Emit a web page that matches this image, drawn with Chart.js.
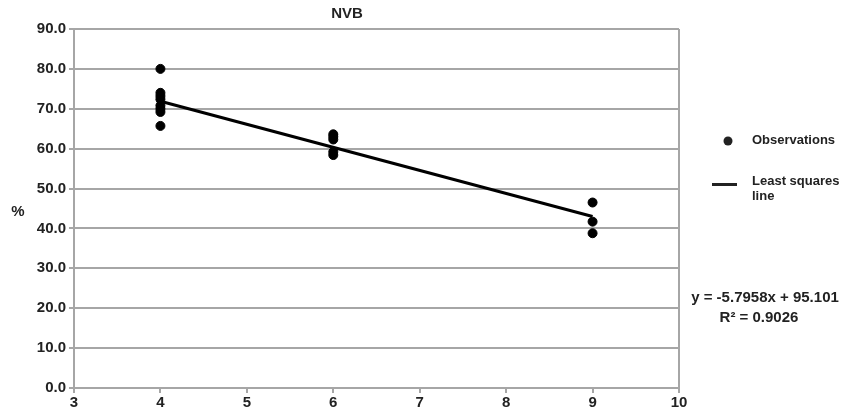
<!DOCTYPE html>
<html>
<head>
<meta charset="utf-8">
<script src="https://cdn.jsdelivr.net/npm/chart.js@4/dist/chart.umd.min.js"></script>
<style>
  html, body { margin: 0; padding: 0; background: #fff; }
  #wrap { width: 843px; height: 415px; position: relative; }
</style>
</head>
<body>
<div id="wrap"><canvas id="nvbChart"></canvas></div>
<script>
"use strict";

// observations: group (x) and % (y)
var obsX = [4, 4, 4, 4, 4, 4, 4, 4, 6, 6, 6, 6, 6, 9, 9, 9];
var obsY = [80.0, 74.0, 73.2, 72.4, 70.8, 70.0, 69.2, 65.7, 63.6, 63.0, 62.3, 59.2, 58.4, 46.5, 41.7, 38.8];

// least squares line end points
var fitX = [4, 9];
var fitY = [71.9, 43.0];

var yTicks = [0, 10, 20, 30, 40, 50, 60, 70, 80, 90];
var xTicks = [3, 4, 5, 6, 7, 8, 9, 10];

var chartTitle = 'NVB';
var yTitle = '%';
var legendLabels = ['Observations', 'Least squares', 'line'];
var equationText = ['y = -5.7958x + 95.101', 'R\u00B2 = 0.9026'];

var gridGrey = '#a6a6a6';
var textCol = '#222222';
var fontFam = '"Liberation Sans", Arial, sans-serif';

function toPoints(xs, ys) {
    var pts = [];
    for (var i = 0; i < xs.length; i++) {
        pts.push({x: xs[i], y: ys[i]});
    }
    return pts;
}

/*
 * Title, axis label, legend and equation
 */
var extrasPlugin = {
    id: 'extras',
    afterDraw: function (chart) {
        var ctx = chart.ctx;
        ctx.save();
        ctx.fillStyle = textCol;
        ctx.textBaseline = 'middle';

        ctx.font = 'bold 15px ' + fontFam;
        ctx.textAlign = 'center';
        ctx.fillText(chartTitle, 347, 14);
        ctx.fillText(yTitle, 18, 212);

        // legend
        ctx.beginPath();
        ctx.arc(728, 141, 4.5, 0, Math.PI * 2);
        ctx.fill();
        ctx.fillRect(712, 183, 25, 3);
        ctx.font = 'bold 13px ' + fontFam;
        ctx.textAlign = 'left';
        ctx.fillText(legendLabels[0], 752, 140);
        ctx.fillText(legendLabels[1], 752, 181);
        ctx.fillText(legendLabels[2], 752, 196);

        // equation
        ctx.font = 'bold 15px ' + fontFam;
        ctx.textAlign = 'center';
        ctx.fillText(equationText[0], 765, 298);
        ctx.fillText(equationText[1], 759, 318);
        ctx.restore();
    }
};

var config = {
    type: 'scatter',
    data: {
        datasets: [{
            label: legendLabels[1] + ' ' + legendLabels[2],
            type: 'line',
            data: toPoints(fitX, fitY),
            borderColor: '#000',
            borderWidth: 3,
            pointRadius: 0,
            fill: false,
            order: 0
        }, {
            label: legendLabels[0],
            data: toPoints(obsX, obsY),
            backgroundColor: '#000',
            borderColor: '#000',
            pointRadius: 4.5,
            pointHoverRadius: 4.5,
            order: 1
        }]
    },
    options: {
        responsive: true,
        maintainAspectRatio: false,
        animation: false,
        layout: {
            padding: {top: 29, right: 164, left: 0, bottom: 0}
        },
        plugins: {
            legend: {display: false},
            title: {display: false},
            tooltip: {enabled: false}
        },
        scales: {
            x: {
                type: 'linear',
                min: 3,
                max: 10,
                afterFit: function (scale) { scale.height = 27; },
                afterBuildTicks: function (scale) {
                    scale.ticks = xTicks.map(function (v) { return {value: v}; });
                },
                ticks: {
                    color: textCol,
                    font: {family: fontFam, size: 15, weight: 'bold'},
                    padding: 1,
                    callback: function (v) { return v; }
                },
                grid: {
                    color: function (c) {
                        return (c.tick && (c.tick.value === 3 || c.tick.value === 10)) ? gridGrey : 'rgba(0,0,0,0)';
                    },
                    tickColor: gridGrey,
                    lineWidth: 2,
                    tickLength: 5
                },
                border: {color: gridGrey, width: 2}
            },
            y: {
                min: 0,
                max: 90,
                afterFit: function (scale) { scale.width = 74; },
                afterBuildTicks: function (scale) {
                    scale.ticks = yTicks.map(function (v) { return {value: v}; });
                },
                ticks: {
                    color: textCol,
                    font: {family: fontFam, size: 15, weight: 'bold'},
                    padding: 3,
                    callback: function (v) { return Number(v).toFixed(1); }
                },
                grid: {
                    color: gridGrey,
                    tickColor: gridGrey,
                    lineWidth: 2,
                    tickLength: 5
                },
                border: {color: gridGrey, width: 2}
            }
        }
    },
    plugins: [extrasPlugin]
};

new Chart(document.getElementById('nvbChart'), config);
</script>
</body>
</html>
